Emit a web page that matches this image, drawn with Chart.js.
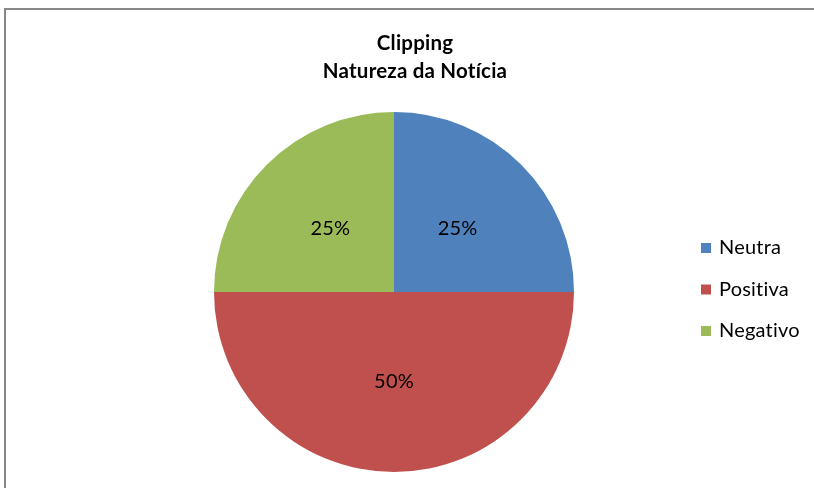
<!DOCTYPE html>
<html>
<head>
<meta charset="utf-8">
<script src="https://cdn.jsdelivr.net/npm/chart.js@4"></script>
<style>
  body { margin: 0; background: #fff; }
  #frame {
    position: absolute; left: 4px; top: 8px; width: 900px; height: 600px;
    border: 2px solid #878787; box-sizing: border-box;
  }
  #wrap { position: absolute; left: 0; top: 0; width: 814px; height: 488px; }
</style>
</head>
<body>
<div id="frame"></div>
<div id="wrap"><canvas id="pieChart"></canvas></div>
<script>
const labels = ["Neutra", "Positiva", "Negativo"];
const values = [25, 50, 25];
const colors = ["#4F81BD", "#C0504D", "#9BBB59"];
const titleLines = ["Clipping", "Natureza da Notícia"];

const FONT = "Lato, 'Open Sans', sans-serif";

// draws title, percent labels and legend on the canvas
const decorations = {
   id: "decorations",
   afterDraw(chart) {
      const ctx = chart.ctx;
      ctx.save();
      ctx.fillStyle = "#000";
      ctx.textBaseline = "middle";
      ctx.letterSpacing = "0.2px"; // also stops the "ti" ligature

      // title
      ctx.textAlign = "center";
      ctx.font = "bold 20.5px " + FONT;
      ctx.fillText(titleLines[0], 415, 43);
      ctx.fillText(titleLines[1], 415, 71);

      // percent labels inside slices
      const total = values.reduce((a, b) => a + b, 0);
      ctx.font = "20px " + FONT;
      chart.getDatasetMeta(0).data.forEach((arc, i) => {
         const mid = (arc.startAngle + arc.endAngle) / 2;
         const r = arc.outerRadius * 0.5;
         const x = arc.x + Math.cos(mid) * r;
         const y = arc.y + Math.sin(mid) * r;
         ctx.fillText(Math.round(values[i] / total * 100) + "%", x, y);
      });

      // legend
      ctx.textAlign = "left";
      labels.forEach((label, i) => {
         const y = 248 + i * 41.5;
         ctx.fillStyle = colors[i];
         ctx.fillRect(701, y - 5, 10, 10);
         ctx.fillStyle = "#000";
         ctx.fillText(label, 719, y);
      });
      ctx.restore();
   },
};

const ctx = document.getElementById("pieChart").getContext("2d");
new Chart(ctx, {
   type: "pie",
   data: {
      labels: labels,
      datasets: [
         {
            data: values,
            backgroundColor: colors,
            borderWidth: 0,
         },
      ],
   },
   options: {
      responsive: true,
      maintainAspectRatio: false,
      animation: false,
      layout: {
         padding: { left: 214, right: 240, top: 112, bottom: 16 },
      },
      plugins: {
         legend: { display: false },
         title: { display: false },
         tooltip: { enabled: false },
      },
   },
   plugins: [decorations],
});
</script>
</body>
</html>
